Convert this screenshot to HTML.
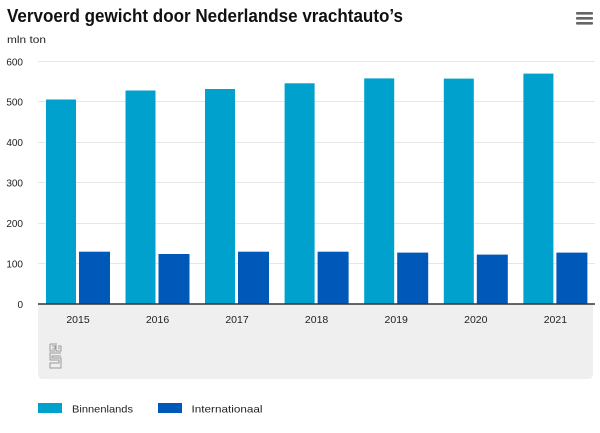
<!DOCTYPE html>
<html><head><meta charset="utf-8"><style>
html,body{margin:0;padding:0;background:#fff;}
svg{display:block;}
text{font-family:"Liberation Sans",sans-serif;}
</style></head><body>
<svg width="600" height="433" viewBox="0 0 600 433" xmlns="http://www.w3.org/2000/svg">
<rect width="600" height="433" fill="#fff"/>
<text x="7" y="22" font-size="18" font-weight="bold" fill="#111" textLength="396" lengthAdjust="spacingAndGlyphs">Vervoerd gewicht door Nederlandse vrachtauto’s</text>
<text x="7" y="43" font-size="10.5" fill="#222" textLength="39" lengthAdjust="spacingAndGlyphs">mln ton</text>
<g fill="#666"><rect x="576" y="12" width="17" height="2.6" rx="1"/><rect x="576" y="17" width="17" height="2.6" rx="1"/><rect x="576" y="22" width="17" height="2.6" rx="1"/></g>
<!-- grid -->
<g stroke="#e6e6e6" stroke-width="1">
<line x1="38" x2="595" y1="61.5" y2="61.5"/>
<line x1="38" x2="595" y1="101.5" y2="101.5"/>
<line x1="38" x2="595" y1="142.5" y2="142.5"/>
<line x1="38" x2="595" y1="182.5" y2="182.5"/>
<line x1="38" x2="595" y1="223.5" y2="223.5"/>
<line x1="38" x2="595" y1="263.5" y2="263.5"/>
</g>
<g font-size="10" fill="#222" text-anchor="end">
<text x="23" y="65.5">600</text>
<text x="23" y="105.5">500</text>
<text x="23" y="146">400</text>
<text x="23" y="186.5">300</text>
<text x="23" y="227">200</text>
<text x="23" y="267.5">100</text>
<text x="23" y="308">0</text>
</g>
<!-- panel -->
<path d="M38 304 H593 V374 Q593 379 588 379 H43 Q38 379 38 374 Z" fill="#efefef"/>
<!-- bars -->
<g fill="#00a1cd">
<rect x="46" y="99.5" width="30" height="204.5"/>
<rect x="125.5" y="90.5" width="30" height="213.5"/>
<rect x="205" y="89" width="30" height="215"/>
<rect x="284.6" y="83.3" width="30" height="220.7"/>
<rect x="364.2" y="78.4" width="30" height="225.6"/>
<rect x="443.8" y="78.6" width="30" height="225.4"/>
<rect x="523.4" y="73.6" width="30" height="230.4"/>
</g>
<g fill="#0058b8">
<rect x="79" y="251.7" width="31" height="52.3"/>
<rect x="158.5" y="254" width="31" height="50"/>
<rect x="238" y="251.7" width="31" height="52.3"/>
<rect x="317.6" y="251.7" width="31" height="52.3"/>
<rect x="397.2" y="252.6" width="31" height="51.4"/>
<rect x="476.8" y="254.6" width="31" height="49.4"/>
<rect x="556.4" y="252.6" width="31" height="51.4"/>
</g>
<line x1="38" x2="595" y1="304" y2="304" stroke="#333" stroke-width="1.5"/>
<g font-size="10.5" fill="#222" text-anchor="middle">
<text x="78" y="323">2015</text>
<text x="157.5" y="323">2016</text>
<text x="237" y="323">2017</text>
<text x="316.6" y="323">2018</text>
<text x="396.2" y="323">2019</text>
<text x="475.8" y="323">2020</text>
<text x="555.4" y="323">2021</text>
</g>
<!-- cbs logo -->
<g fill="none" stroke="#9a9a9a" stroke-width="1">
<path d="M50 344 V351 H55"/>
<path d="M50 344 H55"/>
<path d="M52 346 H55 V349 H52"/>
<path d="M56 343 V351 H61 V346 H58"/>
<path d="M58 348 H59 V349"/>
<path d="M61 353 H50 V360 H59 V363 H50 V368 H61 V358 H52 V356 H61"/>
</g>
<!-- legend -->
<rect x="38" y="403" width="24" height="10" fill="#00a1cd"/>
<text x="72" y="412.5" font-size="10.5" fill="#222" textLength="61" lengthAdjust="spacingAndGlyphs">Binnenlands</text>
<rect x="158" y="403" width="24" height="10" fill="#0058b8"/>
<text x="191.5" y="412.5" font-size="10.5" fill="#222" textLength="71" lengthAdjust="spacingAndGlyphs">Internationaal</text>
</svg>
</body></html>
